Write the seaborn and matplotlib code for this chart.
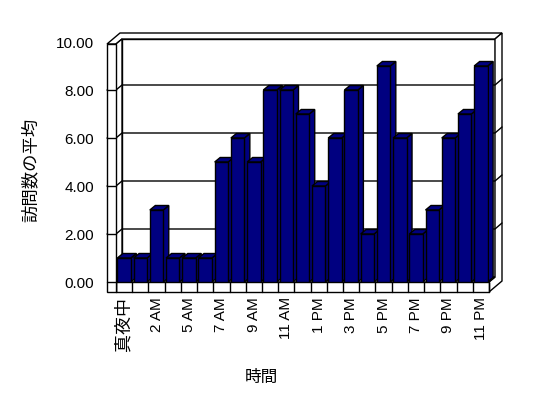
import matplotlib
matplotlib.use("Agg")
import matplotlib.pyplot as plt
import seaborn as sns
import pandas as pd
from matplotlib.patches import Polygon, Rectangle

# ---- data ----
hours = ['真夜中', '1 AM', '2 AM', '3 AM', '5 AM', '6 AM', '7 AM', '8 AM', '9 AM',
         '10 AM', '11 AM', '正午', '1 PM', '2 PM', '3 PM', '4 PM', '5 PM', '6 PM',
         '7 PM', '8 PM', '9 PM', '10 PM', '11 PM']
visits = [1, 1, 3, 1, 1, 1, 5, 6, 5, 8, 8, 7, 4, 6, 8, 2, 9, 6, 2, 3, 6, 7, 9]
ytick_values = [0, 2, 4, 6, 8, 10]
ytick_labels = ['0.00', '2.00', '4.00', '6.00', '8.00', '10.00']
shown_positions = list(range(0, len(hours), 2))
shown_labels = hours[::2]
x_title = '時間'
y_title = '訪問数の平均'

sns.set_theme(style='white')
plt.rcParams['font.family'] = ['Liberation Sans', 'Noto Sans CJK JP']

W, H = 548, 398
fig = plt.figure(figsize=(W / 100, H / 100), dpi=100)
fig.patch.set_facecolor('white')
ax = fig.add_axes([116 / W, 116 / H, 373 / W, 240 / H])

df = pd.DataFrame({'hour': hours, 'visits': visits})
sns.barplot(data=df, x='hour', y='visits', order=hours, color='#000080',
            saturation=1, edgecolor='black', linewidth=1, width=0.83,
            errorbar=None, ax=ax)
bars = list(ax.patches)

n = len(hours)
ax.set_xlim(-0.5, n - 0.5)
ax.set_ylim(0, 10)
for s in ax.spines.values():
    s.set_visible(False)
ax.patch.set_visible(False)

# pixel -> data unit helpers for the 3D decoration
PX = 373 / n
PY = 24.0
d1x, d1y = 6 / PX, 5 / PY      # back wall inner face depth
d2x, d2y = 13 / PX, 11 / PY    # back wall outer depth
bdx, bdy = 5.5 / PX, 4.5 / PY  # bar depth
Wl = 9 / PX                    # left wall thickness
F = 10 / PY                    # floor thickness
x0, x1 = -0.5, n - 0.5
T = 10 - 2 / PY

lw = 1.0
kw = dict(facecolor='white', edgecolor='black', linewidth=lw, clip_on=False)

# back wall inner face
ax.add_patch(Rectangle((x0 + d1x, d1y), x1 - x0, T, zorder=0.5, **kw))
# combined top of walls
ax.add_patch(Polygon([(x0 - Wl, T), (x0, T), (x0 + d1x, T + d1y), (x1 + d1x, T + d1y),
                      (x1 + d2x, T + d2y), (x0 - Wl + d2x, T + d2y)], closed=True,
                     zorder=0.6, **kw))
# right face (back wall + floor)
ax.add_patch(Polygon([(x1, -F), (x1, 0), (x1 + d1x, d1y), (x1 + d1x, T + d1y),
                      (x1 + d2x, T + d2y), (x1 + d2x, -F + d2y)], closed=True,
                     zorder=0.6, **kw))
# left wall inner face
ax.add_patch(Polygon([(x0, 0), (x0, T), (x0 + d1x, T + d1y), (x0 + d1x, d1y)],
                     closed=True, zorder=0.7, **kw))
# floor top
ax.add_patch(Polygon([(x0, 0), (x1, 0), (x1 + d1x, d1y), (x0 + d1x, d1y)],
                     closed=True, zorder=0.8, **kw))
# floor front face with cells
ax.add_patch(Rectangle((x0, -F), x1 - x0, F, zorder=1.5, **kw))
for k in range(n + 1):
    ax.plot([x0 + k, x0 + k], [-F, 0], color='black', lw=lw, zorder=1.6, clip_on=False)
# left wall front face
ax.add_patch(Rectangle((x0 - Wl, -F), Wl, T + F, zorder=200, **kw))

# gridlines
for v in ytick_values[1:-1]:
    ax.plot([x0 - Wl, x0, x0 + d1x, x1 + d1x, x1 + d2x],
            [v, v, v + d1y, v + d1y, v + d2y],
            color='black', lw=lw, zorder=1, clip_on=False)
    ax.plot([x0 - Wl, x0], [v, v], color='black', lw=lw, zorder=201, clip_on=False)
ax.plot([x0 - Wl, x0], [0, 0], color='black', lw=lw, zorder=201, clip_on=False)

# bars in pseudo-3D (side and top faces added to the seaborn bars)
for i, p in enumerate(bars):
    x, w, h = p.get_x(), p.get_width(), p.get_height()
    z = 3 + 2 * i
    p.set_zorder(z + 1)
    ax.add_patch(Polygon([(x + w, 0), (x + w, h), (x + w + bdx, h + bdy), (x + w + bdx, bdy)],
                         closed=True, facecolor='#000080', edgecolor='black', lw=lw,
                         zorder=z, clip_on=False))
    ax.add_patch(Polygon([(x, h), (x + w, h), (x + w + bdx, h + bdy), (x + bdx, h + bdy)],
                         closed=True, facecolor='#000080', edgecolor='black', lw=lw,
                         zorder=z, clip_on=False))

# ticks
ax.set_yticks(ytick_values)
ax.set_yticklabels(ytick_labels, fontsize=11, color='black')
ax.set_xticks(shown_positions)
ax.set_xticklabels(shown_labels, rotation=90, va='top', ha='center', fontsize=11, color='black')
ax.get_xticklabels()[0].set_fontsize(13)
ax.tick_params(axis='y', length=0, pad=16)
ax.tick_params(axis='x', length=0, pad=11)

ax.set_xlabel(x_title, fontsize=12, color='black', va='center')
ax.xaxis.set_label_coords(0.391, -0.396)
ax.set_ylabel(y_title, fontsize=12.5, color='black', va='center')
ax.yaxis.set_label_coords(-0.2306, 0.467)

fig.savefig('out.png', dpi=100, facecolor='white')
